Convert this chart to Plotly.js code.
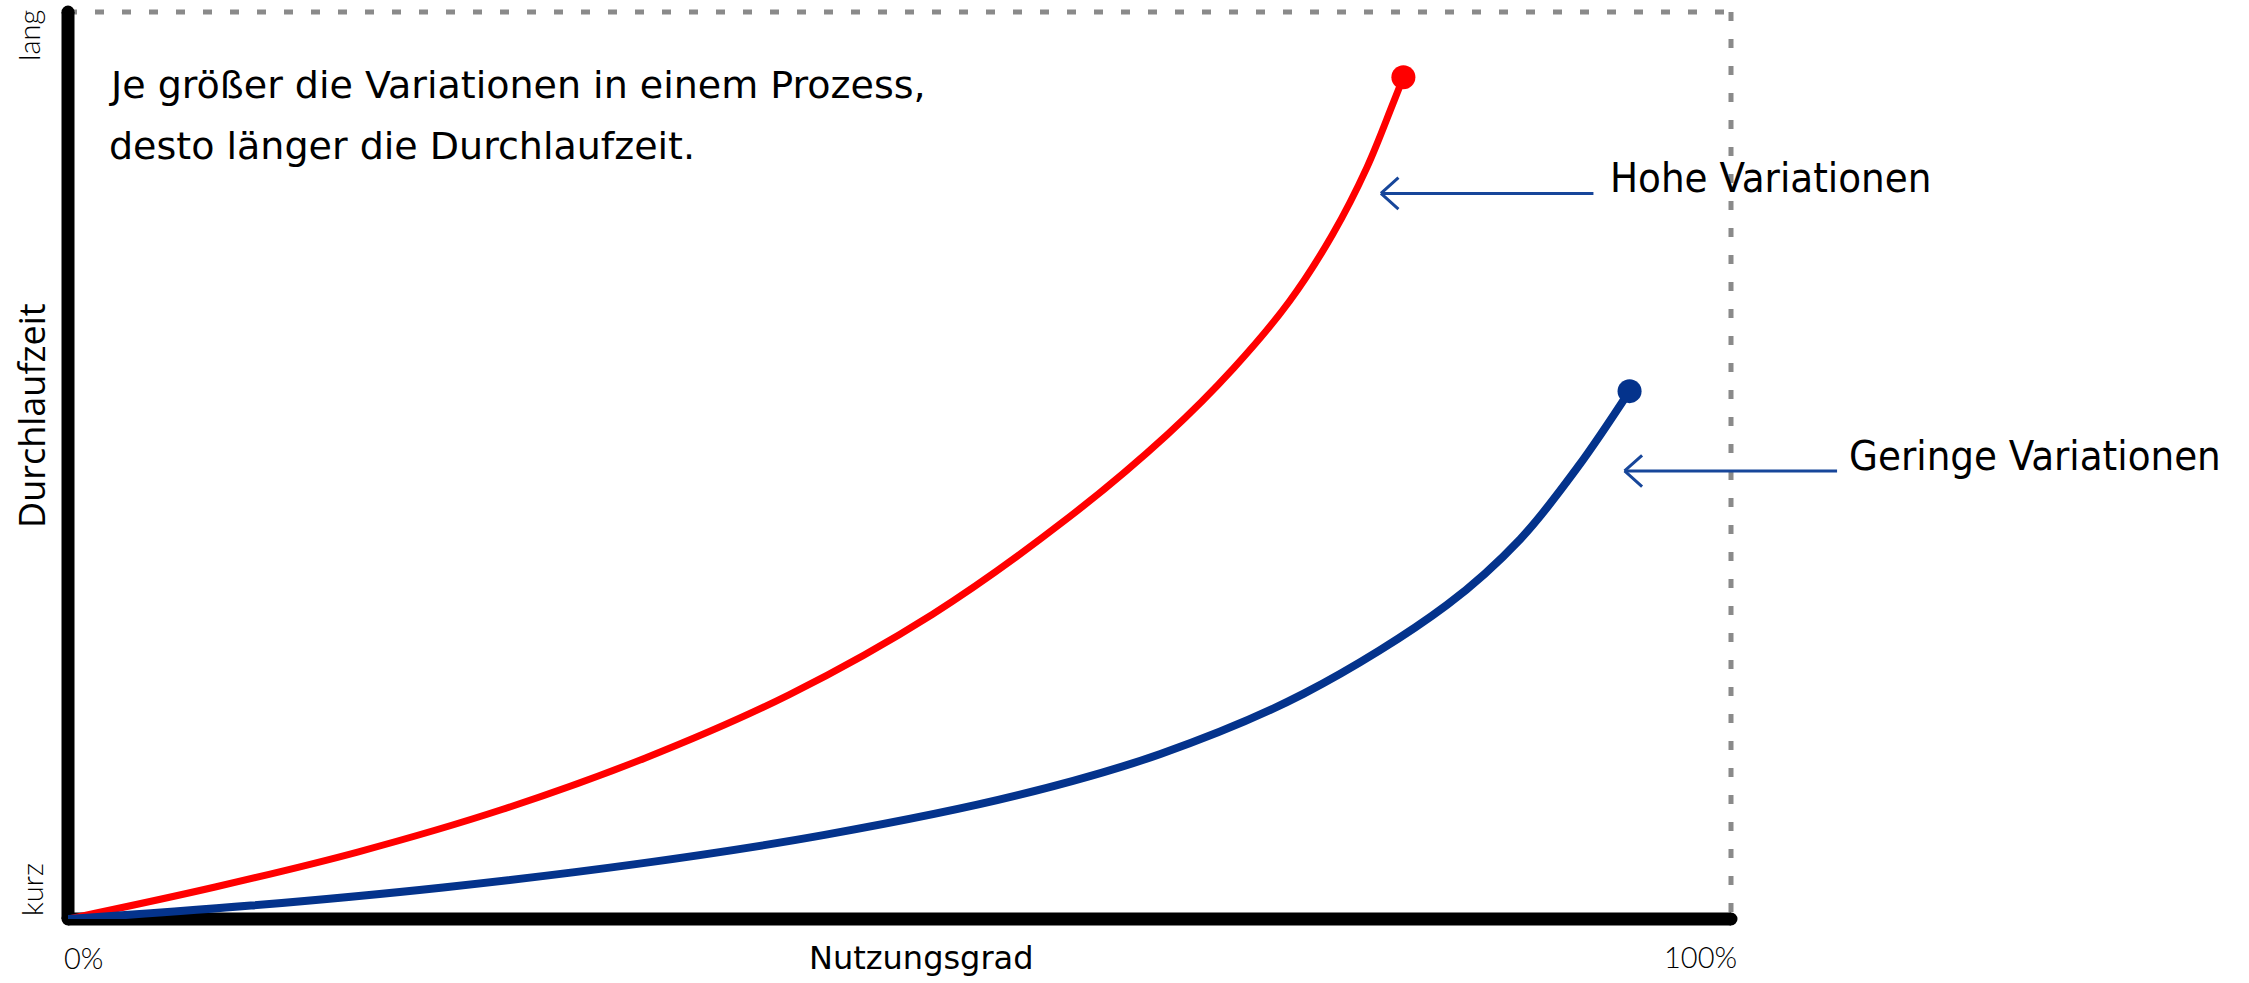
<!DOCTYPE html>
<html>
<head>
<meta charset="utf-8">
<script src="https://cdn.plot.ly/plotly-3.0.1.min.js"></script>
<style>html,body{margin:0;padding:0;background:#fff;}#chart{width:2249px;height:983px;}</style>
</head>
<body>
<div id="chart"></div>
<script>
// Nutzungsgrad (%) and Durchlaufzeit (relative, 0 = kurz, 100 = lang)
const hoheX = [0, 8.85, 17.47, 26.10, 34.72, 43.35, 51.97, 59.99, 66.12, 70.08, 73.45, 76.04, 78.11, 79.66, 80.3];
const hoheY = [0, 3.53, 7.41, 12.07, 17.76, 24.72, 33.58, 44.01, 53.44, 60.71, 68.11, 75.47, 82.87, 89.84, 92.8];
const geringeX = [0, 11.0, 22.56, 34.03, 45.5, 57.06, 65.69, 74.31, 82.93, 87.34, 90.78, 93.9];
const geringeY = [0, 1.48, 3.48, 6.02, 9.27, 13.62, 18.2, 24.85, 34.65, 41.91, 49.81, 58.2];
const seriesNames = ['Hohe Variationen', 'Geringe Variationen'];
const xTickLabels = ['0%', '100%'];
const yTickLabels = ['kurz', 'lang'];
const xTitle = 'Nutzungsgrad';
const yTitle = 'Durchlaufzeit';
const noteLines = ['Je größer die Variationen in einem Prozess,', 'desto länger die Durchlaufzeit.'];

const RED = '#ff0000';
const BLUE = '#04338c';
const ARROW = '#17469a';
const noteFont = '"DejaVu Sans", Verdana, sans-serif';
const labelFont = '"DejaVu Sans Condensed", "DejaVu Sans", sans-serif';
const handFont = 'Lato, "Noto Sans", sans-serif';

function endMarkers(arr, size) { return arr.map((v, i) => i === arr.length - 1 ? size : 0); }

const traces = [
  {x: hoheX, y: hoheY, name: seriesNames[0], mode: 'lines+markers', type: 'scatter',
   line: {color: RED, width: 7, shape: 'spline', smoothing: 1},
   marker: {color: RED, opacity: 1, size: endMarkers(hoheX, 24), line: {width: 0}}, cliponaxis: false},
  {x: geringeX, y: geringeY, name: seriesNames[1], mode: 'lines+markers', type: 'scatter',
   line: {color: BLUE, width: 8, shape: 'spline', smoothing: 1},
   marker: {color: BLUE, opacity: 1, size: endMarkers(geringeX, 24), line: {width: 0}}, cliponaxis: false}
];

const capCircle = (xa, ya) => ({type: 'circle', xref: 'paper', yref: 'paper', xsizemode: 'pixel', ysizemode: 'pixel',
  xanchor: xa, yanchor: ya, x0: -6.5, x1: 6.5, y0: -6.5, y1: 6.5, fillcolor: '#000', line: {width: 0}, layer: 'below'});

const shapes = [
  {type: 'line', xref: 'paper', yref: 'paper', x0: 0, y0: 1, x1: 1, y1: 1, line: {color: '#8a8a8a', width: 5, dash: '9px,18px'}, layer: 'below'},
  {type: 'line', xref: 'paper', yref: 'paper', x0: 1, y0: 1, x1: 1, y1: 0, line: {color: '#8a8a8a', width: 5, dash: '9px,18px'}, layer: 'below'},
  {type: 'line', xref: 'paper', yref: 'paper', x0: 0, y0: 0, x1: 0, y1: 1, line: {color: '#000', width: 13}, layer: 'below'},
  {type: 'line', xref: 'paper', yref: 'paper', x0: 0, y0: 0, x1: 1, y1: 0, line: {color: '#000', width: 13}, layer: 'below'},
  capCircle(0, 1), capCircle(1, 0), capCircle(0, 0)
];

// arrow = shaft + two wings, each a head-less annotation arrow drawn from a pixel offset to the tip
function arrow(tx, ty) {
  const base = {x: tx, y: ty, xref: 'x', yref: 'y', text: '', showarrow: true, arrowhead: 0,
    arrowwidth: 3, arrowcolor: ARROW, standoff: 0, startstandoff: 0};
  return [
    Object.assign({}, base, {ax: 214, ay: 0}),
    Object.assign({}, base, {ax: 19, ay: -17}),
    Object.assign({}, base, {ax: 19, ay: 17})
  ];
}

const annotations = [
  ...arrow(78.95, 80.0),
  ...arrow(93.6, 49.4),
  // series labels
  {x: 0.926, y: 0.817, xref: 'paper', yref: 'paper', xanchor: 'left', yanchor: 'middle', showarrow: false,
   text: seriesNames[0], font: {family: labelFont, size: 41.5, color: '#000'}},
  {x: 1.0698, y: 0.5105, xref: 'paper', yref: 'paper', xanchor: 'left', yanchor: 'middle', showarrow: false,
   text: seriesNames[1], font: {family: labelFont, size: 41.5, color: '#000'}},
  // note
  {x: 0.0235, y: 0.92, xref: 'paper', yref: 'paper', xanchor: 'left', yanchor: 'middle', showarrow: false,
   text: noteLines[0], font: {family: noteFont, size: 38, color: '#000'}},
  {x: 0.0235, y: 0.852, xref: 'paper', yref: 'paper', xanchor: 'left', yanchor: 'middle', showarrow: false,
   text: noteLines[1], font: {family: noteFont, size: 38, color: '#000'}},
  // axis titles
  {x: 0.5135, y: 0, xref: 'paper', yref: 'paper', yshift: -39, xanchor: 'center', yanchor: 'middle', showarrow: false,
   text: xTitle, font: {family: noteFont, size: 32, color: '#000'}},
  {x: 0, y: 0.5546, xref: 'paper', yref: 'paper', xshift: -36, xanchor: 'center', yanchor: 'middle', showarrow: false,
   textangle: -90, text: yTitle, font: {family: '"Open Sans", sans-serif', size: 36, color: '#000'}},
  // hand-written style end labels
  {x: 0, y: 0, xref: 'paper', yref: 'paper', xshift: 15, yshift: -38, xanchor: 'center', yanchor: 'middle', showarrow: false,
   text: xTickLabels[0], font: {family: handFont, size: 29, color: '#000', weight: 300}},
  {x: 1, y: 0, xref: 'paper', yref: 'paper', xshift: -31, yshift: -37, xanchor: 'center', yanchor: 'middle', showarrow: false,
   text: xTickLabels[1], font: {family: handFont, size: 29, color: '#000', weight: 300}},
  {x: 0, y: 0, xref: 'paper', yref: 'paper', xshift: -37, yshift: 29, xanchor: 'center', yanchor: 'middle', showarrow: false,
   textangle: -90, text: yTickLabels[0], font: {family: handFont, size: 29, color: '#000', weight: 300}},
  {x: 0, y: 1, xref: 'paper', yref: 'paper', xshift: -40, yshift: -24, xanchor: 'center', yanchor: 'middle', showarrow: false,
   textangle: -90, text: yTickLabels[1], font: {family: handFont, size: 29, color: '#000', weight: 300}}
];

const layout = {
  width: 2249, height: 983,
  margin: {l: 68, r: 518, t: 12, b: 64},
  paper_bgcolor: '#fff', plot_bgcolor: '#fff',
  showlegend: false,
  xaxis: {range: [0, 100], visible: false, fixedrange: true},
  yaxis: {range: [0, 100], visible: false, fixedrange: true},
  shapes: shapes,
  annotations: annotations
};

Plotly.newPlot('chart', traces, layout, {staticPlot: true, displayModeBar: false});
</script>
</body>
</html>
